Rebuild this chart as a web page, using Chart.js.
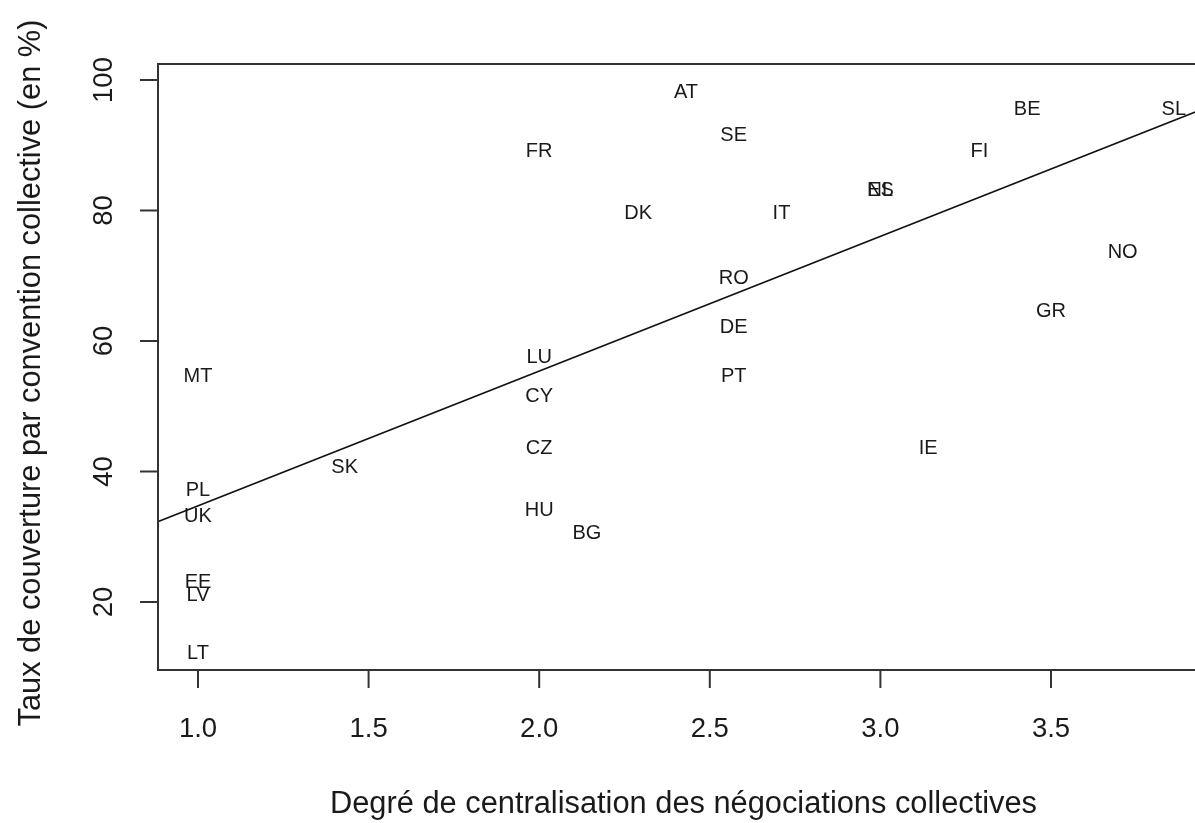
<!DOCTYPE html>
<html>
<head>
<meta charset="utf-8">
<script src="https://cdn.jsdelivr.net/npm/chart.js@4.4.1/dist/chart.umd.min.js"></script>
<style>
  html, body { margin: 0; padding: 0; background: #fff; }
  #wrap { width: 1195px; height: 823px; position: relative; }
</style>
</head>
<body>
<div id="wrap"><canvas id="myChart"></canvas></div>
<script>
// pays et valeurs
const pays = ['AT', 'SE', 'FR', 'BE', 'SL', 'FI', 'DK', 'IT', 'NL', 'ES', 'NO', 'RO', 'DE', 'GR',
    'LU', 'MT', 'PT', 'CY', 'CZ', 'IE', 'SK', 'PL', 'UK', 'HU', 'BG', 'EE', 'LV', 'LT'];
const centralisation = [2.43, 2.57, 2.0, 3.43, 3.86, 3.29, 2.29, 2.71, 3.0, 3.0, 3.71, 2.57, 2.57, 3.5,
    2.0, 1.0, 2.57, 2.0, 2.0, 3.14, 1.43, 1.0, 1.0, 2.0, 2.14, 1.0, 1.0, 1.0];
const couverture = [98.5, 92, 89.5, 96, 96, 89.5, 80, 80, 83.5, 83.5, 74, 70, 62.5, 65,
    58, 55, 55, 52, 44, 44, 41, 37.5, 33.5, 34.5, 31, 23.5, 21.5, 12.5];

const xTicks = [1.0, 1.5, 2.0, 2.5, 3.0, 3.5];
const xTickLabels = ['1.0', '1.5', '2.0', '2.5', '3.0', '3.5'];
const yTicks = [20, 40, 60, 80, 100];
const yTickLabels = ['20', '40', '60', '80', '100'];

// droite de régression (abline)
const intercept = 14.1;
const pente = 20.65;

const xMin = 0.8828, xMax = 3.922;
const yMin = 9.58, yMax = 102.45;

const FONT = '"Liberation Sans", Arial, sans-serif';
const INK = '#1a1a1a';

const points = pays.map((p, i) => ({ x: centralisation[i], y: couverture[i] }));

// dessine cadre, graduations, étiquettes et titres à la façon de R
const rPlot = {
    id: 'rPlot',
    afterDatasetsDraw(chart) {
        const ctx = chart.ctx;
        const a = chart.chartArea;
        const xs = chart.scales.x;
        const ys = chart.scales.y;
        ctx.save();

        // étiquettes des pays
        const meta = chart.getDatasetMeta(1);
        ctx.fillStyle = INK;
        ctx.font = '20px ' + FONT;
        ctx.textAlign = 'center';
        ctx.textBaseline = 'middle';
        meta.data.forEach((el, i) => {
            ctx.fillText(pays[i], el.x, el.y + 3);
        });

        // cadre (gauche, haut, bas)
        ctx.strokeStyle = '#333';
        ctx.lineWidth = 2;
        ctx.beginPath();
        ctx.moveTo(a.right + 2, a.top);
        ctx.lineTo(a.left, a.top);
        ctx.lineTo(a.left, a.bottom);
        ctx.lineTo(a.right + 2, a.bottom);
        ctx.stroke();

        // graduations x
        ctx.font = '27.5px ' + FONT;
        ctx.lineWidth = 2;
        xTicks.forEach((v, i) => {
            const px = xs.getPixelForValue(v);
            ctx.beginPath();
            ctx.moveTo(px, a.bottom);
            ctx.lineTo(px, a.bottom + 18);
            ctx.stroke();
            ctx.fillText(xTickLabels[i], px, 729);
        });

        // graduations y (texte vertical)
        yTicks.forEach((v, i) => {
            const py = ys.getPixelForValue(v);
            ctx.beginPath();
            ctx.moveTo(a.left, py);
            ctx.lineTo(a.left - 18, py);
            ctx.stroke();
            ctx.save();
            ctx.translate(104, py);
            ctx.rotate(-Math.PI / 2);
            ctx.fillText(yTickLabels[i], 0, 0);
            ctx.restore();
        });

        // titres des axes
        ctx.font = '30.8px ' + FONT;
        ctx.fillText('Degré de centralisation des négociations collectives', (a.left + 1195) / 2 + 7, 805);
        ctx.save();
        ctx.translate(32, (a.top + a.bottom) / 2 + 6);
        ctx.rotate(-Math.PI / 2);
        ctx.fillText('Taux de couverture par convention collective (en %)', 0, 0);
        ctx.restore();

        ctx.restore();
    }
};

const canvas = document.getElementById('myChart');
const myChart = new Chart(canvas.getContext('2d'), {
    type: 'scatter',
    data: {
        datasets: [{
            type: 'line',
            label: 'Régression',
            data: [
                { x: xMin - 0.1, y: intercept + pente * (xMin - 0.1) },
                { x: xMax + 0.1, y: intercept + pente * (xMax + 0.1) }
            ],
            borderColor: '#111',
            borderWidth: 1.6,
            pointRadius: 0,
            fill: false,
            tension: 0
        }, {
            label: 'Pays',
            data: points,
            pointRadius: 0,
            pointHoverRadius: 0,
            backgroundColor: 'rgba(0,0,0,0)',
            borderColor: 'rgba(0,0,0,0)'
        }]
    },
    options: {
        responsive: true,
        maintainAspectRatio: false,
        animation: false,
        layout: {
            padding: { left: 158, top: 64, right: 0, bottom: 153 }
        },
        scales: {
            x: {
                type: 'linear',
                min: xMin,
                max: xMax,
                grid: { display: false },
                border: { display: false },
                ticks: { display: false },
                afterFit: s => { s.height = 0; }
            },
            y: {
                type: 'linear',
                min: yMin,
                max: yMax,
                grid: { display: false },
                border: { display: false },
                ticks: { display: false },
                afterFit: s => { s.width = 0; }
            }
        },
        plugins: {
            legend: { display: false },
            tooltip: { enabled: false }
        }
    },
    plugins: [rPlot]
});
</script>
</body>
</html>
